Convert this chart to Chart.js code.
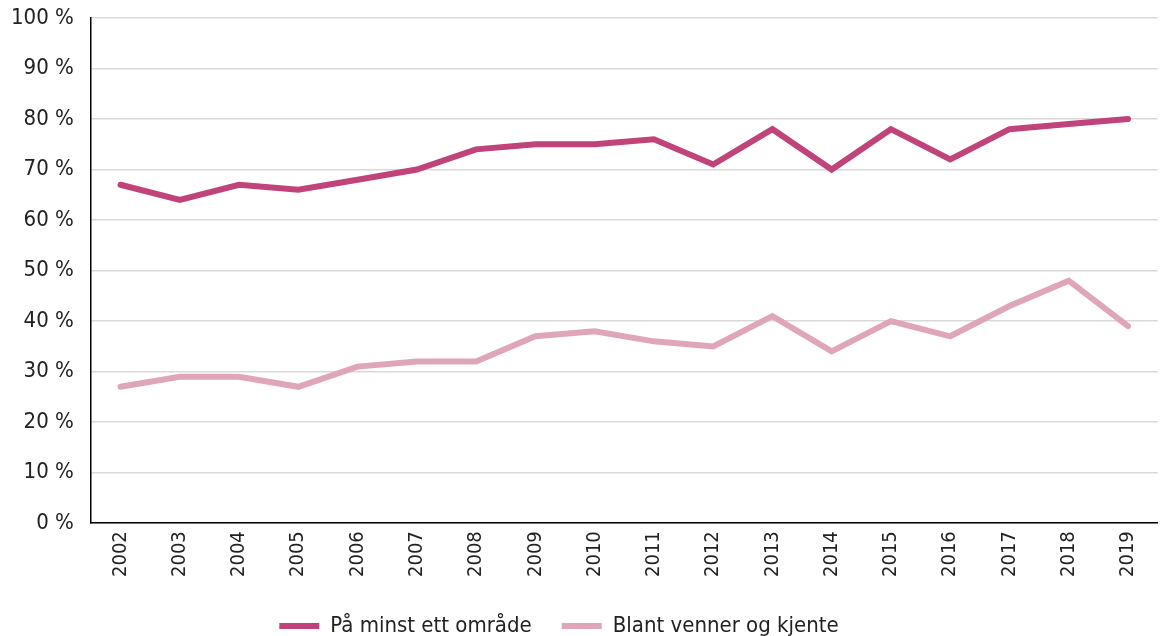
<!DOCTYPE html>
<html lang="no">
<head>
  <meta charset="UTF-8">
  <script src="https://cdn.jsdelivr.net/npm/chart.js"></script>
  <title>Andel over tid</title>
  <style>
    html, body{margin: 0; padding: 0; background: #fff;}
    #wrap{width: 1160px; height: 636px;}
  </style>
</head>
<body>
  <div id="wrap">
    <canvas id="myChart"></canvas>
  </div>
  <script>
    // data
    const years = ['2002','2003','2004','2005','2006','2007','2008','2009','2010','2011','2012','2013','2014','2015','2016','2017','2018','2019'];
    const minstEtt = [67, 64, 67, 66, 68, 70, 74, 75, 75, 76, 71, 78, 70, 78, 72, 78, 79, 80];
    const venner = [27, 29, 29, 27, 31, 32, 32, 37, 38, 36, 35, 41, 34, 40, 37, 43, 48, 39];
    const seriesNames = ['På minst ett område', 'Blant venner og kjente'];

    Chart.defaults.font.family = '"DejaVu Sans Condensed", "DejaVu Sans", Verdana, sans-serif';
    Chart.defaults.color = '#222';

    // legend sits a bit left of centre in the original
    const legendShift = {
      id: 'legendShift',
      afterLayout(chart){
        chart.legend.left -= 22;
        chart.legend.right -= 22;
      }
    };

    const ctx = document.getElementById('myChart');

    new Chart(ctx, {
      type: 'line',
      data: {
        labels: years,
        datasets: [{
          label: seriesNames[0],
          data: minstEtt,
          borderColor: '#c0437a',
          backgroundColor: '#c0437a',
          borderWidth: 6,
          borderCapStyle: 'round',
          borderJoinStyle: 'miter',
          pointRadius: 0,
          tension: 0
        }, {
          label: seriesNames[1],
          data: venner,
          borderColor: '#dfa6b9',
          backgroundColor: '#dfa6b9',
          borderWidth: 6,
          borderCapStyle: 'round',
          borderJoinStyle: 'miter',
          pointRadius: 0,
          tension: 0
        }]
      },
      options: {
        responsive: true,
        maintainAspectRatio: false,
        animation: false,
        events: [],
        layout: {padding: {top: 18, right: -8, left: -6, bottom: -11}},
        plugins: {
          tooltip: {enabled: false},
          legend: {
            position: 'bottom',
            labels: {
              usePointStyle: true,
              pointStyle: 'line',
              pointStyleWidth: 40,
              boxHeight: 22,
              padding: 30,
              font: {size: 22}
            }
          }
        },
        scales: {
          x: {
            offset: true,
            grid: {display: false, drawTicks: false},
            border: {color: '#000', width: 1.5},
            ticks: {
              minRotation: 90,
              maxRotation: 90,
              padding: 8,
              font: {size: 20}
            }
          },
          y: {
            min: 0,
            max: 100,
            grid: {color: '#d9d9d9', lineWidth: 1.5, drawTicks: false},
            border: {color: '#000', width: 1.5},
            afterFit: function(s){ s.paddingTop = 0; },
            ticks: {
              stepSize: 10,
              padding: 17,
              font: {size: 22},
              callback: function(v){ return v + ' %'; }
            }
          }
        }
      },
      plugins: [legendShift]
    });
  </script>
</body>
</html>
